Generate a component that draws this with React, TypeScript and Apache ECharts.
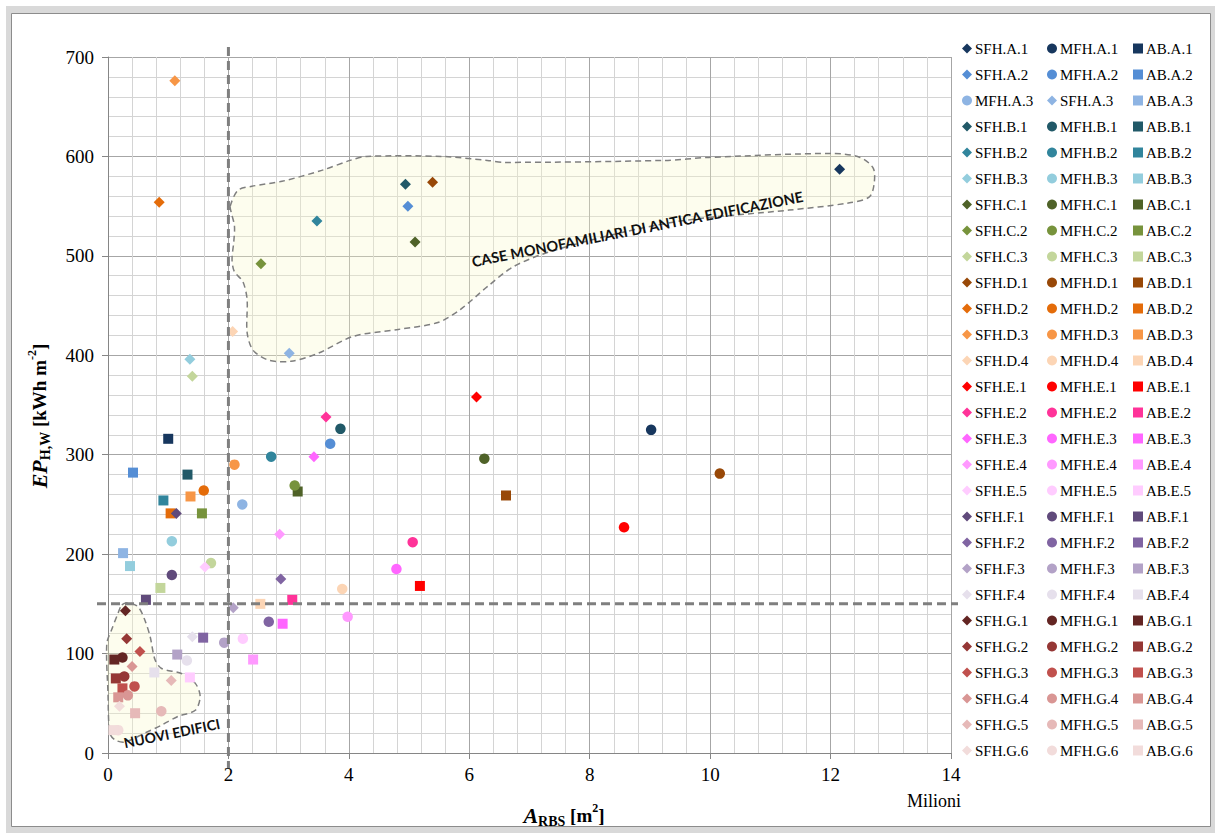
import React, { useEffect, useRef } from "react";
import * as echarts from "echarts";

// ---- categories (rows of the legend) ----
const rowCodes = [
  "A.1", "A.2", "A.3", "B.1", "B.2", "B.3", "C.1", "C.2", "C.3",
  "D.1", "D.2", "D.3", "D.4", "E.1", "E.2", "E.3", "E.4", "E.5",
  "F.1", "F.2", "F.3", "F.4", "G.1", "G.2", "G.3", "G.4", "G.5", "G.6",
];
const rowColors = [
  "#17375E", "#558ED5", "#8EB4E3", "#215968", "#31859C", "#93CDDD",
  "#4F6228", "#77933C", "#C3D69B", "#984807", "#E46C0A", "#F79646", "#FCD5B5",
  "#FF0000", "#FF3399", "#FF66FF", "#FF99FF", "#FFCCFF",
  "#604A7B", "#8064A2", "#B3A2C7", "#E6E0EC",
  "#632523", "#953735", "#C0504D", "#D99694", "#E6B9B8", "#F2DCDB",
];

// ---- series values: A_RBS [milioni m2] and EP_H,W [kWh m-2] ----
const sfhX = [12.15, 4.98, 3.01, 4.94, 3.47, 1.36, 5.10, 2.54, 1.40, 5.39, 0.85, 1.11, 2.07, 6.12, 3.62, 3.42, 2.85, 1.61, 1.135, 2.87, 2.08, 1.40, 0.29, 0.31, 0.53, 0.40, 1.05, 0.19];
const sfhY = [587, 550, 402, 572, 535, 396, 514, 492, 379, 574, 554, 676, 424, 358, 338, 298, 220, 187, 241, 175, 146, 117, 143, 115, 102, 87, 73, 47];
const mfhX = [9.02, 3.69, 2.23, 3.86, 2.71, 1.06, 6.25, 3.10, 1.71, 10.16, 1.59, 2.10, 3.89, 8.57, 5.06, 4.79, 3.98, 2.24, 1.06, 2.67, 1.93, 1.31, 0.24, 0.27, 0.44, 0.33, 0.885, 0.17];
const mfhY = [325, 311, 250, 326, 298, 213, 296, 269, 191, 281, 264, 290, 165, 227, 212, 185, 137, 115, 179, 132, 111, 93, 96, 77, 67, 58, 42, 23];
const abX = [1.00, 0.415, 0.25, 1.32, 0.92, 0.365, 3.15, 1.56, 0.87, 6.61, 1.04, 1.37, 2.53, 5.18, 3.06, 2.90, 2.41, 1.36, 0.63, 1.58, 1.15, 0.77, 0.105, 0.13, 0.24, 0.17, 0.45, 0.09];
const abY = [316, 282, 201, 280, 254, 188, 263, 241, 166, 259, 241, 258, 150, 168, 154, 130, 94, 76, 154, 116, 99, 81, 94, 75, 65, 56, 40, 23];

// ---- axes ----
const xMin = 0, xMax = 14, xStep = 2;
const yMin = 0, yMax = 700, yStep = 100;

// ---- threshold guides ----
const guideX = 2;
const guideY = 150;

// ---- annotation outlines (data coordinates) ----
const oldHousesOutline: number[][] = [
  [2.03, 550], [2.16, 566], [2.39, 570], [2.89, 575], [3.55, 586], [4.02, 596], [4.29, 600],
  [5.55, 600], [6.30, 596], [6.59, 594], [9.24, 596], [9.98, 599], [12.04, 603], [12.49, 599],
  [12.71, 588], [12.72, 571], [12.64, 559], [12.28, 553], [11.31, 546], [9.62, 536], [8.50, 523],
  [7.33, 504], [6.73, 489], [6.30, 469], [5.85, 446], [5.48, 433], [4.82, 426], [4.07, 419],
  [3.49, 402], [3.04, 394], [2.67, 395], [2.41, 405], [2.31, 423], [2.31, 456], [2.24, 474],
  [2.10, 484], [2.06, 496], [2.09, 515], [2.10, 530], [2.05, 543],
];
const newBuildingsOutline: number[][] = [
  [0.23, 149], [0.34, 151], [0.50, 147], [0.61, 134], [0.70, 117], [0.78, 94], [0.89, 85],
  [1.22, 80], [1.45, 70], [1.53, 57], [1.45, 43], [1.17, 37], [0.89, 28], [0.61, 20],
  [0.28, 11], [0.12, 13], [0.03, 20], [0.0, 60], [-0.02, 110], [0.06, 124], [0.17, 141],
];
const oldHousesLabel = "CASE MONOFAMILIARI DI ANTICA EDIFICAZIONE";
const oldHousesLabelAt = [8.79, 527];
const newBuildingsLabel = "NUOVI EDIFICI";
const newBuildingsLabelAt = [1.06, 20];

const SERIF = "'Liberation Serif', 'Times New Roman', serif";

export default function App() {
  const ref = useRef<HTMLDivElement>(null);

  useEffect(() => {
    if (!ref.current) return;
    const chart = echarts.init(ref.current, undefined, { renderer: "svg" });

    const series: any[] = [];
    rowCodes.forEach((code, i) => {
      series.push({
        type: "scatter", name: "SFH." + code, symbol: "diamond", symbolSize: 11,
        itemStyle: { color: rowColors[i], opacity: 1 }, data: [[sfhX[i], sfhY[i]]], z: 5,
      });
      series.push({
        type: "scatter", name: "MFH." + code, symbol: "circle", symbolSize: 10.5,
        itemStyle: { color: rowColors[i], opacity: 1 }, data: [[mfhX[i], mfhY[i]]], z: 5,
      });
      series.push({
        type: "scatter", name: "AB." + code, symbol: "rect", symbolSize: 10,
        itemStyle: { color: rowColors[i], opacity: 1 }, data: [[abX[i], abY[i]]], z: 5,
      });
    });

    // annotation areas (below the points)
    series.push({
      type: "custom",
      name: "areas",
      silent: true,
      z: 1,
      clip: false,
      data: [[0, 0]],
      renderItem: (_p: any, api: any) => {
        const pts = (arr: number[][]) => arr.map((p) => api.coord(p));
        const areaStyle = {
          fill: "rgba(250,250,200,0.3)",
          stroke: "#7F7F7F",
          lineWidth: 1.5,
          lineDash: [6, 4],
        };
        const a = api.coord(oldHousesLabelAt);
        const b = api.coord(newBuildingsLabelAt);
        return {
          type: "group",
          children: [
            { type: "polygon", shape: { points: pts(oldHousesOutline), smooth: 0.3 }, style: areaStyle },
            { type: "polygon", shape: { points: pts(newBuildingsOutline), smooth: 0.3 }, style: areaStyle },
            {
              type: "text", x: a[0], y: a[1], rotation: (11.2 * Math.PI) / 180,
              style: {
                text: oldHousesLabel, fontFamily: "Lato, 'Open Sans', sans-serif", fontWeight: "bold",
                fontSize: 14.5, fill: "#111", align: "center", verticalAlign: "middle",
              },
            },
            {
              type: "text", x: b[0], y: b[1], rotation: (11.6 * Math.PI) / 180,
              style: {
                text: newBuildingsLabel, fontFamily: "Lato, 'Open Sans', sans-serif", fontWeight: "bold",
                fontSize: 14, fill: "#111", align: "center", verticalAlign: "middle",
              },
            },
          ],
        };
      },
    });

    // dashed threshold guides (above the points)
    series.push({
      type: "custom",
      name: "guides",
      silent: true,
      z: 10,
      clip: false,
      data: [[0, 0]],
      renderItem: (_p: any, api: any) => {
        const top = api.coord([guideX, yMax]);
        const bottom = api.coord([guideX, yMin]);
        const left = api.coord([xMin, guideY]);
        const right = api.coord([xMax, guideY]);
        const st = { stroke: "#7F7F7F", lineWidth: 3, lineDash: [9, 5] };
        return {
          type: "group",
          children: [
            { type: "line", shape: { x1: top[0], y1: top[1] - 10, x2: bottom[0], y2: bottom[1] + 15 }, style: st },
            { type: "line", shape: { x1: left[0] - 11, y1: left[1], x2: right[0] + 7, y2: right[1] }, style: st },
          ],
        };
      },
    });

    const col1 = rowCodes.map((c, i) => (i === 2 ? "MFH." + c : "SFH." + c));
    const col2 = rowCodes.map((c, i) => (i === 2 ? "SFH." + c : "MFH." + c));
    const col3 = rowCodes.map((c) => "AB." + c);
    const legendLefts = [962, 1047, 1133];

    const richTitle = {
      ep: { fontFamily: SERIF, fontSize: 22, fontStyle: "italic", fontWeight: "bold", lineHeight: 26, verticalAlign: "middle" },
      sub: { fontFamily: SERIF, fontSize: 14, fontWeight: "bold", lineHeight: 13, verticalAlign: "bottom" },
      n: { fontFamily: SERIF, fontSize: 19, fontWeight: "bold", lineHeight: 26, verticalAlign: "middle" },
      sup: { fontFamily: SERIF, fontSize: 12, fontWeight: "bold", lineHeight: 11, verticalAlign: "top" },
      m: { fontFamily: SERIF, fontSize: 18, fontWeight: "normal", lineHeight: 22, verticalAlign: "middle" },
    };

    const option: any = {
      animation: false,
      backgroundColor: "transparent",
      grid: { left: 108, right: 264, top: 57, bottom: 80, containLabel: false },
      xAxis: {
        type: "value", min: xMin, max: xMax, interval: xStep,
        axisLine: { show: true, onZero: false, lineStyle: { color: "#868686", width: 1 } },
        axisTick: { show: true, length: 6, lineStyle: { color: "#868686" } },
        axisLabel: { fontFamily: SERIF, fontSize: 19, color: "#000", margin: 12 },
        splitLine: { show: true, lineStyle: { color: "#A6A6A6", width: 1 } },
        minorTick: { show: false, splitNumber: 5 },
        minorSplitLine: { show: true, lineStyle: { color: "#D4D4D4", width: 1 } },
      },
      yAxis: {
        type: "value", min: yMin, max: yMax, interval: yStep,
        axisLine: { show: true, onZero: false, lineStyle: { color: "#868686", width: 1 } },
        axisTick: { show: true, length: 6, lineStyle: { color: "#868686" } },
        axisLabel: { fontFamily: SERIF, fontSize: 19, color: "#000", margin: 14 },
        splitLine: { show: true, lineStyle: { color: "#A6A6A6", width: 1 } },
        minorTick: { show: false, splitNumber: 5 },
        minorSplitLine: { show: true, lineStyle: { color: "#D4D4D4", width: 1 } },
      },
      legend: [col1, col2, col3].map((names, k) => ({
        orient: "vertical",
        left: legendLefts[k],
        top: 41,
        padding: 0,
        itemGap: 11,
        itemWidth: 10,
        itemHeight: 10,
        selectedMode: false,
        textStyle: { fontFamily: SERIF, fontSize: 15, color: "#000", lineHeight: 15, padding: [0, 0, 0, -2] },
        data: names,
      })),
      graphic: [
        {
          type: "rect", z: -10, silent: true,
          shape: { x: 6, y: 6, width: 1209, height: 827 },
          style: { fill: "#D9D9D9" },
        },
        {
          type: "rect", z: -9, silent: true,
          shape: { x: 11.5, y: 13.5, width: 1199, height: 813 },
          style: { fill: "#FFFFFF", stroke: "#8C8C8C", lineWidth: 1 },
        },
        {
          type: "text", x: 39, y: 416, rotation: Math.PI / 2,
          style: {
            text: "{ep|EP}{sub|H,W}{n| [kWh m}{sup|-2}{n|]}",
            align: "center", verticalAlign: "middle", fill: "#000",
            rich: richTitle,
          },
        },
        {
          type: "text", x: 564, y: 815,
          style: {
            text: "{ep|A}{sub|RBS}{n| [m}{sup|2}{n|]}",
            align: "center", verticalAlign: "middle", fill: "#000",
            rich: richTitle,
          },
        },
        {
          type: "text", x: 934, y: 801,
          style: {
            text: "{m|Milioni}", fill: "#000",
            align: "center", verticalAlign: "middle",
            rich: richTitle,
          },
        },
      ],
      series,
    };

    chart.setOption(option);
    return () => chart.dispose();
  }, []);

  return (
    <div
      ref={ref}
      style={{ position: "fixed", left: 0, top: 0, width: 1215, height: 833, background: "#fff" }}
    />
  );
}
